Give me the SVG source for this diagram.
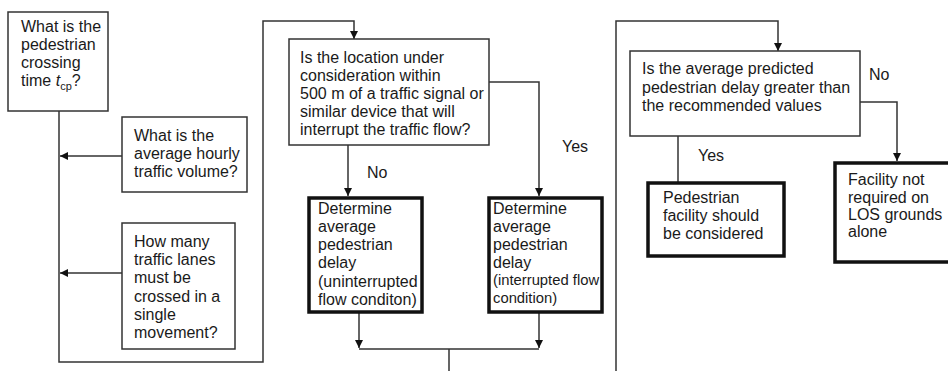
<svg xmlns="http://www.w3.org/2000/svg" width="948" height="371" viewBox="0 0 948 371">
<style>
text{font-family:"Liberation Sans",Arial,sans-serif;font-size:16px;fill:#1a1a1a}
.box{fill:#fff;stroke:#333;stroke-width:1.5}
.thick{fill:#fff;stroke:#111;stroke-width:3.5}
.ln{fill:none;stroke:#333;stroke-width:1.5}
.sm{font-size:14.8px}
</style>
<defs>
<marker id="ah" viewBox="0 0 10 10" refX="10" refY="5" markerWidth="8" markerHeight="8" markerUnits="userSpaceOnUse" orient="auto">
<path d="M0,0L10,5L0,10z" fill="#111"/>
</marker>
</defs>
<rect width="948" height="371" fill="#fff"/>
<g id="connectors">
<path class="ln" d="M59,111V362H263V21H354V39" marker-end="url(#ah)"/>
<path class="ln" d="M122,156H60" marker-end="url(#ah)"/>
<path class="ln" d="M122,273H60" marker-end="url(#ah)"/>
<path class="ln" d="M348,145V196" marker-end="url(#ah)"/>
<path class="ln" d="M489,82H539V196" marker-end="url(#ah)"/>
<path class="ln" d="M359,313V348" marker-end="url(#ah)"/>
<path class="ln" d="M539,313V348" marker-end="url(#ah)"/>
<path class="ln" d="M359,349H539M449,349V371"/>
<path class="ln" d="M616,371V21H778V51" marker-end="url(#ah)"/>
<path class="ln" d="M860,102H897V161" marker-end="url(#ah)"/>
<path class="ln" d="M678,136V182"/>
<text x="367" y="178">No</text>
<text x="562" y="152">Yes</text>
<text x="869" y="80">No</text>
<text x="698" y="161">Yes</text>
</g>
<g id="n1">
<rect class="box" x="8" y="12" width="100" height="99"/>
<text x="21" y="32">What is the</text>
<text x="21" y="50">pedestrian</text>
<text x="21" y="68">crossing</text>
<text x="21" y="86">time <tspan font-style="italic">t</tspan><tspan font-size="11" dy="4">cp</tspan><tspan dy="-4">?</tspan></text>
</g>
<g id="n2">
<rect class="box" x="122" y="117" width="125" height="75"/>
<text x="134" y="141">What is the</text>
<text x="134" y="159">average hourly</text>
<text x="134" y="177">traffic volume?</text>
</g>
<g id="n3">
<rect class="box" x="122" y="223" width="113" height="126"/>
<text x="134" y="247">How many</text>
<text x="134" y="265">traffic lanes</text>
<text x="134" y="283">must be</text>
<text x="134" y="302">crossed in a</text>
<text x="134" y="320">single</text>
<text x="134" y="338">movement?</text>
</g>
<g id="q2">
<rect class="box" x="289" y="39" width="200" height="106"/>
<text x="300" y="63">Is the location under</text>
<text x="300" y="81">consideration within</text>
<text x="300" y="99">500 m of a traffic signal or</text>
<text x="300" y="117">similar device that will</text>
<text x="300" y="135">interrupt the traffic flow?</text>
</g>
<g id="d1">
<rect class="thick" x="309" y="198" width="113" height="114"/>
<text x="318" y="214">Determine</text>
<text x="318" y="232">average</text>
<text x="318" y="250">pedestrian</text>
<text x="318" y="268">delay</text>
<text x="318" y="287">(uninterrupted</text>
<text x="318" y="305">flow conditon)</text>
</g>
<g id="d2">
<rect class="thick" x="489" y="198" width="113" height="114"/>
<text x="493" y="214">Determine</text>
<text x="493" y="232">average</text>
<text x="493" y="250">pedestrian</text>
<text x="493" y="268">delay</text>
<text class="sm" x="493" y="285">(interrupted flow</text>
<text class="sm" x="493" y="303">condition)</text>
</g>
<g id="q3">
<rect class="box" x="630" y="51" width="230" height="85"/>
<text x="642" y="74">Is the average predicted</text>
<text x="642" y="93">pedestrian delay greater than</text>
<text x="642" y="111">the recommended values</text>
</g>
<g id="p">
<rect class="thick" x="648" y="183" width="136" height="73"/>
<text x="663" y="203">Pedestrian</text>
<text x="663" y="221">facility should</text>
<text x="663" y="239">be considered</text>
</g>
<g id="f">
<rect class="thick" x="835" y="163" width="120" height="99"/>
<text x="848" y="185">Facility not</text>
<text x="848" y="203">required on</text>
<text x="848" y="220">LOS grounds</text>
<text x="848" y="237">alone</text>
</g>
</svg>
